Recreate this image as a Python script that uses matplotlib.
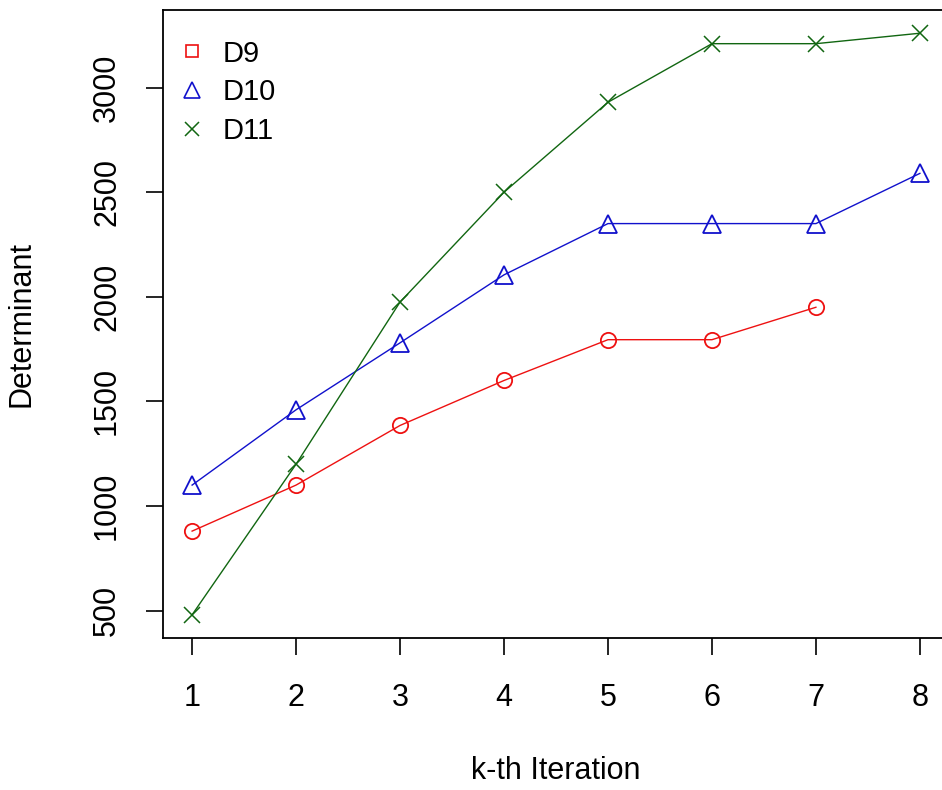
import matplotlib.pyplot as plt
from matplotlib.lines import Line2D

plt.rcParams['font.family'] = ['Liberation Sans', 'DejaVu Sans']

iters = [1, 2, 3, 4, 5, 6, 7, 8]
d9 = [880, 1100, 1385, 1600, 1795, 1795, 1950]
d10 = [1100, 1460, 1780, 2105, 2350, 2350, 2350, 2590]
d11 = [480, 1200, 1975, 2500, 2930, 3210, 3210, 3260]
yticks = [500, 1000, 1500, 2000, 2500, 3000]

fig = plt.figure(figsize=(9.42, 7.9), dpi=100)
# right edge of the box falls just outside the picture, as in the original
ax = fig.add_axes([163 / 942, 1 - 638 / 790, 786 / 942, 628 / 790])

ax.plot(iters[:len(d9)], d9, color='#ee1111', lw=1, marker='o', ms=11,
        mfc='none', mew=1.3)
ax.plot(iters, d10, color='#1111cc', lw=1, marker='^', ms=13,
        mfc='none', mew=1.3)
ax.plot(iters, d11, color='#116611', lw=1, marker='x', ms=12, mew=1.1)

ax.set_xlim(0.72, 8.28)
ax.set_ylim(369, 3371)
ax.set_xticks(iters)
ax.set_yticks(yticks)
ax.tick_params(direction='out', length=12.5, width=1.2, labelsize=22)
ax.tick_params(axis='x', pad=20)
ax.tick_params(axis='y', pad=17)
for lab in ax.get_yticklabels():
    lab.set_rotation(90)
    lab.set_va('center')
for s in ax.spines.values():
    s.set_linewidth(1.3)

ax.set_xlabel('k-th Iteration', fontsize=22, labelpad=31)
ax.set_ylabel('Determinant', fontsize=22, labelpad=40)

handles = [
    Line2D([], [], ls='none', marker='s', ms=9, mfc='none', mec='#ee1111', mew=1.2),
    Line2D([], [], ls='none', marker='^', ms=11, mfc='none', mec='#1111cc', mew=1.2),
    Line2D([], [], ls='none', marker='x', ms=10, mec='#116611', mew=1.1),
]
ax.legend(handles, ['D9', 'D10', 'D11'], loc='upper left', frameon=False,
          fontsize=21, handlelength=1.0, handletextpad=0.55, labelspacing=0.37,
          borderpad=0, borderaxespad=0, bbox_to_anchor=(0.018, 0.953))

fig.savefig('out.png', dpi=100)
